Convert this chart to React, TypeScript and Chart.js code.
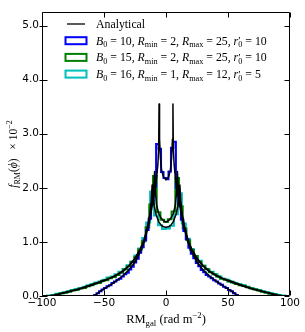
import React, { useEffect, useRef } from "react";
import { Chart, registerables } from "chart.js";

Chart.register(...registerables);

// ---- axes ----
const xTicks = [-100, -50, 0, 50, 100];
const yTicks = [0, 1, 2, 3, 4, 5];
const xMin = -100;
const xMax = 100;
const yMin = 0;
const yMax = 5.25;

// ---- histogram: B0=10, Rmin=2, Rmax=25, r0'=10 (bins of width 2 from -58) ----
const blueStart = -58;
const blueWidth = 2;
const blueVals = [
  0.02, 0.05, 0.09, 0.12, 0.15, 0.18, 0.2, 0.24, 0.27, 0.3,
  0.32, 0.36, 0.4, 0.43, 0.49, 0.54, 0.62, 0.69, 0.8, 0.9,
  1.03, 1.22, 1.43, 1.7, 2.02, 2.81, 2.72, 2.29, 2.18,
  2.16, 2.3, 2.74, 2.85, 2.0, 1.69, 1.41, 1.2, 1.05, 0.89,
  0.78, 0.7, 0.61, 0.55, 0.48, 0.44, 0.39, 0.36, 0.33, 0.29,
  0.27, 0.23, 0.21, 0.17, 0.15, 0.11, 0.09, 0.05, 0.02,
];

// ---- histogram: B0=15, Rmin=2, Rmax=25, r0'=10 (bins of width 3 from -91.5) ----
const greenStart = -91.5;
const greenWidth = 3;
const greenVals = [
  0.01, 0.03, 0.05, 0.06, 0.08, 0.1, 0.11, 0.14, 0.15, 0.18,
  0.2, 0.23, 0.24, 0.28, 0.29, 0.33, 0.35, 0.39, 0.43, 0.49,
  0.55, 0.63, 0.72, 0.86, 1.01, 1.27, 1.69, 2.22, 1.55, 1.41,
  1.37,
  1.42, 1.56, 2.18, 1.66, 1.25, 1.03, 0.85, 0.74, 0.64, 0.56,
  0.5, 0.44, 0.4, 0.36, 0.32, 0.3, 0.27, 0.25, 0.22, 0.2,
  0.19, 0.16, 0.14, 0.12, 0.1, 0.08, 0.06, 0.04, 0.03, 0.01,
];

// ---- histogram: B0=16, Rmin=1, Rmax=12, r0'=5 (bins of width 3.2 from -96) ----
const cyanStart = -96;
const cyanWidth = 3.2;
const cyanVals = [
  0.01, 0.02, 0.04, 0.05, 0.07, 0.09, 0.11, 0.13, 0.15, 0.17,
  0.2, 0.22, 0.25, 0.27, 0.3, 0.34, 0.36, 0.4, 0.45, 0.5,
  0.57, 0.64, 0.75, 0.88, 1.07, 1.36, 1.93, 1.49, 1.31, 1.24,
  1.25, 1.3, 1.51, 1.9, 1.34, 1.06, 0.87, 0.74, 0.65, 0.56,
  0.49, 0.45, 0.4, 0.36, 0.32, 0.3, 0.27, 0.24, 0.22, 0.2,
  0.17, 0.15, 0.13, 0.11, 0.09, 0.07, 0.05, 0.035, 0.02, 0.008,
];

// ---- analytical curves (symmetric, given for RM >= 0) ----
const anaRM1 = [0, 2, 3.5, 4.5, 5.2, 5.6, 5.9, 6.5, 7.5, 9, 11, 13, 15, 18, 21, 25, 30, 35, 40, 45, 50, 54, 57, 58];
const anaF1 = [2.15, 2.2, 2.32, 2.55, 2.9, 3.55, 2.75, 2.45, 2.2, 1.95, 1.68, 1.42, 1.22, 0.98, 0.8, 0.63, 0.48, 0.37, 0.28, 0.2, 0.13, 0.07, 0.02, 0];

const anaRM2 = [0, 2, 4, 6, 7.5, 8.5, 9.2, 9.8, 11, 13, 15, 18, 21, 25, 30, 35, 40, 45, 50, 55, 60, 65, 70, 75, 80, 85, 88, 90];
const anaF2 = [1.37, 1.39, 1.44, 1.53, 1.68, 1.9, 2.3, 2.05, 1.82, 1.48, 1.25, 0.99, 0.84, 0.69, 0.55, 0.45, 0.38, 0.33, 0.28, 0.24, 0.2, 0.16, 0.13, 0.1, 0.07, 0.04, 0.02, 0];

const anaRM3 = [0, 2, 4, 6, 8, 9.5, 10.5, 11.2, 12, 13, 15, 18, 21, 25, 30, 35, 40, 45, 50, 55, 60, 65, 70, 75, 80, 85, 90, 94, 96];
const anaF3 = [1.27, 1.28, 1.31, 1.38, 1.5, 1.66, 1.85, 2.05, 1.72, 1.52, 1.28, 1.01, 0.86, 0.7, 0.56, 0.46, 0.39, 0.33, 0.29, 0.25, 0.21, 0.17, 0.13, 0.1, 0.075, 0.045, 0.02, 0.005, 0];

const BLUE = "#0000ff";
const GREEN = "#008000";
const CYAN = "#00bfbf";

function histOutline(start: number, width: number, vals: number[]) {
  const pts: { x: number; y: number }[] = [{ x: start, y: 0 }];
  vals.forEach((v, i) => {
    pts.push({ x: start + i * width, y: v });
    pts.push({ x: start + (i + 1) * width, y: v });
  });
  const end = start + vals.length * width;
  pts.push({ x: end, y: 0 });
  pts.push({ x: start, y: 0 });
  return pts;
}

function mirror(xs: number[], ys: number[]) {
  const right = xs.map((x, i) => ({ x, y: ys[i] }));
  const left = xs.map((x, i) => ({ x: -x, y: ys[i] })).reverse();
  return [...left, ...right.slice(xs[0] === 0 ? 1 : 0)];
}

type Seg = { t: string; it?: boolean; sub?: boolean; sup?: boolean; prime?: boolean; subUnder?: string };

function segSize(s: Seg, size: number) {
  if (s.prime) return size * 0.95;
  return s.sub || s.sup ? size * 0.7 : size;
}

function segFont(s: Seg, size: number, family: string) {
  return `${s.it ? "italic " : ""}${segSize(s, size)}px ${family}`;
}

function measureRich(ctx: CanvasRenderingContext2D, segs: Seg[], size: number, family: string) {
  let w = 0;
  for (const s of segs) {
    ctx.font = segFont(s, size, family);
    let sw = ctx.measureText(s.t).width;
    if (s.subUnder) {
      ctx.font = segFont({ t: s.subUnder, sub: true }, size, family);
      sw = Math.max(sw, ctx.measureText(s.subUnder).width);
    }
    w += sw;
  }
  return w;
}

function drawRich(
  ctx: CanvasRenderingContext2D,
  segs: Seg[],
  x: number,
  y: number,
  size: number,
  family: string,
  align: "left" | "center"
) {
  const total = measureRich(ctx, segs, size, family);
  let cx = align === "center" ? x - total / 2 : x;
  ctx.textAlign = "left";
  ctx.textBaseline = "alphabetic";
  for (const s of segs) {
    ctx.font = segFont(s, size, family);
    const dy = s.sub ? size * 0.22 : s.sup ? -size * 0.4 : s.prime ? -size * 0.05 : 0;
    ctx.fillText(s.t, cx, y + dy);
    let sw = ctx.measureText(s.t).width;
    if (s.subUnder) {
      ctx.font = segFont({ t: s.subUnder, sub: true }, size, family);
      ctx.fillText(s.subUnder, cx, y + size * 0.22);
      sw = Math.max(sw, ctx.measureText(s.subUnder).width);
    }
    cx += sw;
  }
}

function paramSegs(b0: string, rmin: string, rmax: string, r0: string): Seg[] {
  return [
    { t: "B", it: true }, { t: "0", sub: true }, { t: " = " + b0 + ", " },
    { t: "R", it: true }, { t: "min", sub: true }, { t: " = " + rmin + ", " },
    { t: "R", it: true }, { t: "max", sub: true }, { t: " = " + rmax + ", " },
    { t: "r", it: true }, { t: "′", prime: true, subUnder: "0" }, { t: " = " + r0 },
  ];
}

const legendRows: { kind: "line" | "patch"; color: string; segs: Seg[] }[] = [
  { kind: "line", color: "#000", segs: [{ t: "Analytical" }] },
  { kind: "patch", color: BLUE, segs: paramSegs("10", "2", "25", "10") },
  { kind: "patch", color: GREEN, segs: paramSegs("15", "2", "25", "10") },
  { kind: "patch", color: CYAN, segs: paramSegs("16", "1", "12", "5") },
];

const xTitle: Seg[] = [{ t: "RM" }, { t: "gal", sub: true }, { t: " (rad m" }, { t: "−2", sup: true }, { t: ")" }];
const yTitle: Seg[] = [
  { t: "f", it: true }, { t: "RM", sub: true }, { t: "(" }, { t: "ϕ", it: true }, { t: ")" },
  { t: "   × 10" }, { t: "−2", sup: true },
];

const SERIF = "'Liberation Serif', 'DejaVu Serif', serif";

const decorPlugin = {
  id: "decor",
  afterDatasetsDraw(chart: any) {
    const ctx: CanvasRenderingContext2D = chart.ctx;
    const ca = chart.chartArea;
    const xs = chart.scales.x;
    const ys = chart.scales.y;
    ctx.save();
    ctx.strokeStyle = "#000";
    ctx.fillStyle = "#000";
    ctx.lineWidth = 1;
    const L = Math.round(ca.left) + 0.5;
    const R = Math.round(ca.right) - 0.5;
    const T = Math.round(ca.top) + 0.5;
    const B = Math.round(ca.bottom) - 0.5;
    ctx.beginPath();
    ctx.rect(L, T, R - L, B - T);
    ctx.stroke();
    // ticks
    ctx.beginPath();
    for (const v of xTicks) {
      const px = Math.round(xs.getPixelForValue(v)) + 0.5;
      ctx.moveTo(px, B);
      ctx.lineTo(px, B - 5);
      ctx.moveTo(px, T);
      ctx.lineTo(px, T + 5);
    }
    for (const v of yTicks) {
      const py = Math.round(ys.getPixelForValue(v)) + 0.5;
      ctx.moveTo(L - 3, py);
      ctx.lineTo(L + 5, py);
      ctx.moveTo(R, py);
      ctx.lineTo(R - 5, py);
    }
    ctx.stroke();

    // legend
    const rowY = [24, 40.7, 57.4, 74.1];
    legendRows.forEach((row, i) => {
      const y = rowY[i];
      if (row.kind === "line") {
        ctx.strokeStyle = row.color;
        ctx.lineWidth = 1.3;
        ctx.beginPath();
        ctx.moveTo(67, y);
        ctx.lineTo(85, y);
        ctx.stroke();
      } else {
        ctx.strokeStyle = row.color;
        ctx.lineWidth = 2;
        ctx.strokeRect(65.5, y - 3.5, 21, 7);
      }
      ctx.fillStyle = "#000";
      drawRich(ctx, row.segs, 96, y + 4, 11.8, SERIF, "left");
    });

    // axis titles
    drawRich(ctx, xTitle, (ca.left + ca.right) / 2, 323, 12.5, SERIF, "center");
    ctx.save();
    ctx.translate(17, (ca.top + ca.bottom) / 2);
    ctx.rotate(-Math.PI / 2);
    drawRich(ctx, yTitle, 0, 0, 11.5, SERIF, "center");
    ctx.restore();
    ctx.restore();
  },
};

const fmtNum = (v: number, digits: number) => {
  const s = Math.abs(v).toFixed(digits);
  return v < 0 ? "−" + s : s;
};

export default function App() {
  const ref = useRef<HTMLCanvasElement | null>(null);
  useEffect(() => {
    if (!ref.current) return;
    const hist = (data: any, color: string, order: number) => ({
      data,
      borderColor: color,
      borderWidth: 2,
      pointRadius: 0,
      fill: false,
      tension: 0,
      borderJoinStyle: "miter" as const,
      order,
    });
    const ana = (data: any) => ({
      data,
      borderColor: "#000",
      borderWidth: 1.5,
      pointRadius: 0,
      fill: false,
      tension: 0,
      borderJoinStyle: "round" as const,
      order: 0,
    });
    const chart = new Chart(ref.current, {
      type: "line",
      data: {
        datasets: [
          ana(mirror(anaRM1, anaF1)),
          ana(mirror(anaRM2, anaF2)),
          ana(mirror(anaRM3, anaF3)),
          hist(histOutline(blueStart, blueWidth, blueVals), BLUE, 1),
          hist(histOutline(greenStart, greenWidth, greenVals), GREEN, 2),
          hist(histOutline(cyanStart, cyanWidth, cyanVals), CYAN, 3),
        ],
      },
      options: {
        animation: false,
        responsive: false,
        devicePixelRatio: 1,
        layout: { padding: { top: 12, right: 15, left: 0, bottom: 0 } },
        plugins: { legend: { display: false }, tooltip: { enabled: false } },
        scales: {
          x: {
            type: "linear",
            min: xMin,
            max: xMax,
            afterBuildTicks: (s: any) => {
              s.ticks = xTicks.map((v) => ({ value: v }));
            },
            afterFit: (s: any) => {
              s.height = 36;
            },
            grid: { display: false, drawTicks: false, tickLength: 0 },
            border: { display: false },
            ticks: {
              color: "#000",
              padding: 1,
              maxRotation: 0,
              autoSkip: false,
              font: { family: "'DejaVu Sans'", size: 10.5 },
              callback: (v: any) => fmtNum(Number(v), 0),
            },
          },
          y: {
            type: "linear",
            min: yMin,
            max: yMax,
            afterBuildTicks: (s: any) => {
              s.ticks = yTicks.map((v) => ({ value: v }));
            },
            afterFit: (s: any) => {
              s.width = 42;
            },
            grid: { display: false, drawTicks: false, tickLength: 0 },
            border: { display: false },
            ticks: {
              color: "#000",
              padding: 3,
              autoSkip: false,
              font: { family: "'DejaVu Sans'", size: 10.5 },
              callback: (v: any) => fmtNum(Number(v), 1),
            },
          },
        },
      },
      plugins: [decorPlugin],
    } as any);
    return () => chart.destroy();
  }, []);
  return (
    <div style={{ position: "absolute", left: 0, top: 0, width: 305, height: 332, background: "#fff" }}>
      <canvas ref={ref} width={305} height={332} style={{ display: "block" }} />
    </div>
  );
}
